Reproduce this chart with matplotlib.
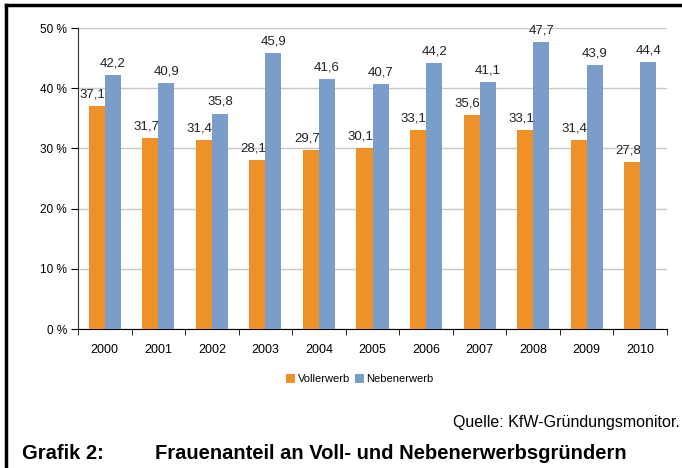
import matplotlib.pyplot as plt
import numpy as np
from matplotlib.lines import Line2D

plt.rcParams['font.family'] = ['Liberation Sans', 'DejaVu Sans']

jahre = ['2000', '2001', '2002', '2003', '2004', '2005', '2006', '2007', '2008', '2009', '2010']
vollerwerb = [37.1, 31.7, 31.4, 28.1, 29.7, 30.1, 33.1, 35.6, 33.1, 31.4, 27.8]
nebenerwerb = [42.2, 40.9, 35.8, 45.9, 41.6, 40.7, 44.2, 41.1, 47.7, 43.9, 44.4]

orange = '#EE9128'
blau = '#7B9DC9'

fig = plt.figure(figsize=(6.82, 4.68), dpi=100)
ax = fig.add_axes([0.1144, 0.297, 0.8636, 0.643])

x = np.arange(len(jahre))
b = 0.3
r1 = ax.bar(x - b / 2, vollerwerb, b, color=orange, label='Vollerwerb', zorder=3)
r2 = ax.bar(x + b / 2, nebenerwerb, b, color=blau, label='Nebenerwerb', zorder=3)

for rects, werte, dx in [(r1, vollerwerb, -3), (r2, nebenerwerb, 0)]:
    for r, v in zip(rects, werte):
        ax.annotate(f'{v:.1f}'.replace('.', ','), (r.get_x() + r.get_width() / 2, v),
                    xytext=(dx, 4), textcoords='offset points', ha='center', va='bottom',
                    fontsize=9.5, color='#222222')

ax.set_xlim(-0.5, len(jahre) - 0.5)
ax.set_ylim(0, 50)
ax.set_yticks(range(0, 51, 10))
ax.set_yticklabels([f'{t} %' for t in range(0, 51, 10)])
ax.set_xticks(x)
ax.set_xticklabels(jahre)
ax.set_xticks(np.arange(-0.5, len(jahre), 1), minor=True)
ax.tick_params(axis='x', which='major', length=0, pad=11, labelsize=9)
ax.tick_params(axis='x', which='minor', length=4, direction='out', color='black')
ax.tick_params(axis='y', length=5, direction='out', labelsize=8.5, pad=3)
ax.grid(axis='y', color='#c8c8c8', linewidth=1, zorder=0)
for s in ['top', 'right']:
    ax.spines[s].set_visible(False)
ax.spines['left'].set_color('#333333')
ax.spines['bottom'].set_color('black')

fig.legend(handles=[r1, r2], loc='center', bbox_to_anchor=(0.528, 0.19), ncol=2, frameon=False,
           fontsize=8, handlelength=0.8, handleheight=0.8, handletextpad=0.2, columnspacing=0.5)

fig.text(0.997, 0.098, 'Quelle: KfW-Gründungsmonitor.', ha='right', va='center', fontsize=11.5)
fig.text(0.032, 0.032, 'Grafik 2:', ha='left', va='center', fontsize=14.5, fontweight='bold')
fig.text(0.227, 0.032, 'Frauenanteil an Voll- und Nebenerwerbsgründern', ha='left', va='center',
         fontsize=14.5, fontweight='bold')

fig.add_artist(Line2D([0.009, 1.0], [0.989, 0.989], color='black', linewidth=2.5))
fig.add_artist(Line2D([0.009, 0.009], [0.0, 0.989], color='black', linewidth=2.5))

fig.savefig('out.png', dpi=100)
